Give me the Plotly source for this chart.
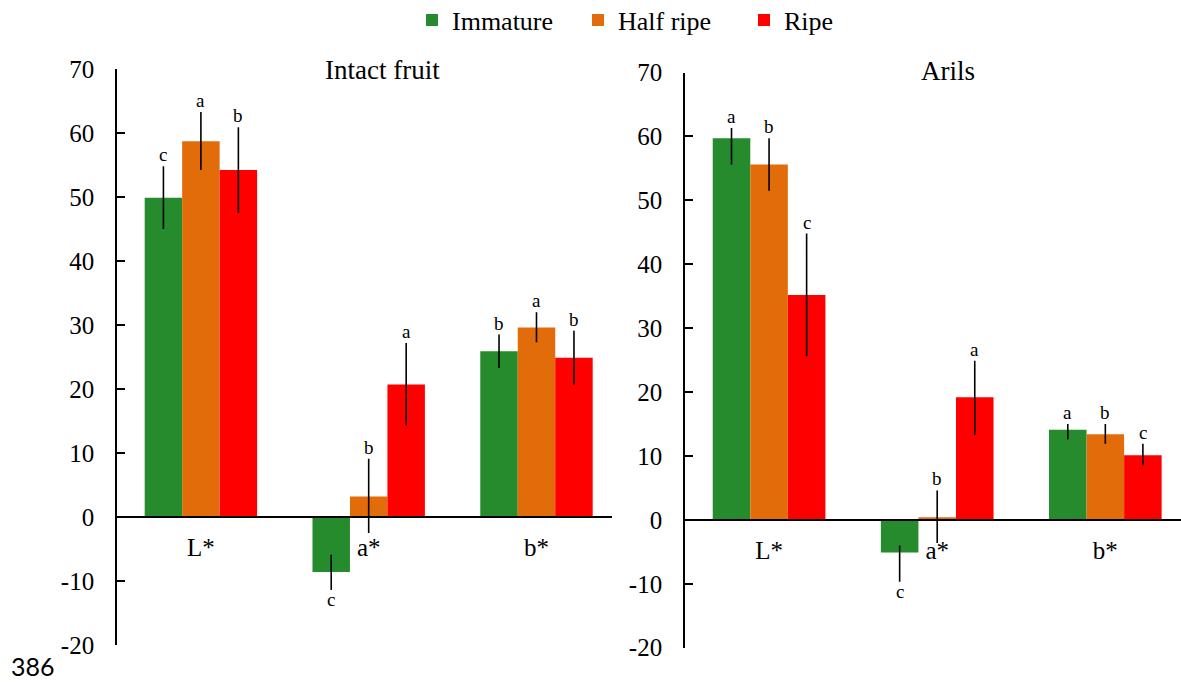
import plotly.graph_objects as go

categories = ["L*", "a*", "b*"]
series_names = ["Immature", "Half ripe", "Ripe"]
series_colors = ["#268B2C", "#E36C0A", "#FF0000"]
y_tick_values = [-20, -10, 0, 10, 20, 30, 40, 50, 60, 70]
y_tick_labels = ["-20", "-10", "0", "10", "20", "30", "40", "50", "60", "70"]

# Intact fruit
intact_immature = [49.9, -8.6, 25.9]
intact_half = [58.7, 3.2, 29.6]
intact_ripe = [54.2, 20.7, 24.9]
intact_immature_err_plus = [4.9, 2.7, 2.6]
intact_immature_err_minus = [4.9, 2.8, 2.6]
intact_half_err_plus = [4.6, 5.9, 2.4]
intact_half_err_minus = [4.5, 5.7, 2.3]
intact_ripe_err_plus = [6.7, 6.5, 4.2]
intact_ripe_err_minus = [6.7, 6.4, 4.2]
intact_immature_letters = ["c", "c", "b"]
intact_half_letters = ["a", "b", "a"]
intact_ripe_letters = ["b", "a", "b"]

# Arils
arils_immature = [59.7, -5.1, 14.1]
arils_half = [55.6, 0.4, 13.4]
arils_ripe = [35.2, 19.2, 10.1]
arils_immature_err_plus = [1.6, 1.1, 0.9]
arils_immature_err_minus = [4.1, 4.6, 1.5]
arils_half_err_plus = [4.1, 4.2, 1.6]
arils_half_err_minus = [4.1, 4.0, 1.5]
arils_ripe_err_plus = [9.6, 5.7, 1.8]
arils_ripe_err_minus = [9.6, 5.9, 1.6]
arils_immature_letters = ["a", "c", "a"]
arils_half_letters = ["b", "b", "b"]
arils_ripe_letters = ["c", "a", "c"]

panel_titles = ["Intact fruit", "Arils"]
line_number = "386"

SERIF = "Liberation Serif"
W, H = 1181, 684
BARGAP = 0.33
bar_w = (1 - BARGAP) / 3

panels = [
    dict(xa="x", ya="y",
         vals=[intact_immature, intact_half, intact_ripe],
         ep=[intact_immature_err_plus, intact_half_err_plus, intact_ripe_err_plus],
         em=[intact_immature_err_minus, intact_half_err_minus, intact_ripe_err_minus],
         letters=[intact_immature_letters, intact_half_letters, intact_ripe_letters]),
    dict(xa="x2", ya="y2",
         vals=[arils_immature, arils_half, arils_ripe],
         ep=[arils_immature_err_plus, arils_half_err_plus, arils_ripe_err_plus],
         em=[arils_immature_err_minus, arils_half_err_minus, arils_ripe_err_minus],
         letters=[arils_immature_letters, arils_half_letters, arils_ripe_letters]),
]

fig = go.Figure()
annotations = []
for pi, p in enumerate(panels):
    for k in range(3):
        fig.add_trace(go.Bar(
            x=categories, y=p["vals"][k], name=series_names[k],
            marker=dict(color=series_colors[k], line=dict(width=0)),
            error_y=dict(type="data", symmetric=False, array=p["ep"][k],
                         arrayminus=p["em"][k], color="black",
                         thickness=1.6, width=0),
            xaxis=p["xa"], yaxis=p["ya"], showlegend=(pi == 0),
            legendgroup=series_names[k],
        ))
        for i, v in enumerate(p["vals"][k]):
            xpos = i + (k - 1) * bar_w
            if v >= 0:
                annotations.append(dict(
                    x=xpos, y=v + p["ep"][k][i], xref=p["xa"], yref=p["ya"],
                    text=p["letters"][k][i], showarrow=False,
                    xanchor="center", yanchor="bottom",
                    yshift=-1, font=dict(family=SERIF, size=19, color="black")))
            else:
                annotations.append(dict(
                    x=xpos, y=v - p["em"][k][i], xref=p["xa"], yref=p["ya"],
                    text=p["letters"][k][i], showarrow=False,
                    xanchor="center", yanchor="top",
                    yshift=3, font=dict(family=SERIF, size=19, color="black")))

# panel titles
annotations.append(dict(x=382.5 / W, y=1 - 70 / H, xref="paper", yref="paper",
                        text=panel_titles[0], showarrow=False,
                        xanchor="center", yanchor="middle",
                        font=dict(family=SERIF, size=27, color="black")))
annotations.append(dict(x=948 / W, y=1 - 71 / H, xref="paper", yref="paper",
                        text=panel_titles[1], showarrow=False,
                        xanchor="center", yanchor="middle",
                        font=dict(family=SERIF, size=27, color="black")))
annotations.append(dict(x=10 / W, y=1 - 666 / H, xref="paper", yref="paper",
                        text=line_number, showarrow=False,
                        xanchor="left", yanchor="middle", borderpad=0,
                        font=dict(family="Lato", size=25, color="black")))

def yaxis_cfg(top_px, bot_px, anchor, standoff):
    return dict(domain=[1 - bot_px / H, 1 - top_px / H], range=[-20, 70],
                tickmode="array", tickvals=y_tick_values, ticktext=y_tick_labels,
                showgrid=False, zeroline=False, automargin=False,
                showline=True, linecolor="black", linewidth=1.6,
                ticks="inside", ticklen=8, tickwidth=1.6, tickcolor="black",
                ticklabelstandoff=standoff, anchor=anchor,
                tickfont=dict(family=SERIF, size=25, color="black"))

def xaxis_cfg(left_px, right_px, zero_px):
    return dict(domain=[left_px / W, right_px / W], range=[-0.5, 2.45],
                type="category", anchor="free", position=1 - zero_px / H,
                showgrid=False, zeroline=False, showline=True, automargin=False,
                linecolor="black", linewidth=1.6, ticks="",
                ticklabelstandoff=8,
                tickfont=dict(family=SERIF, size=25, color="black"))

fig.update_layout(
    width=W, height=H,
    margin=dict(l=0, r=0, t=0, b=0, autoexpand=False),
    paper_bgcolor="white", plot_bgcolor="white",
    font=dict(family=SERIF, color="black"),
    barmode="group", bargap=BARGAP, bargroupgap=0,
    xaxis=xaxis_cfg(117, 612, 517),
    yaxis=yaxis_cfg(69, 645, "x", 16),
    xaxis2=xaxis_cfg(685, 1181, 520),
    yaxis2=yaxis_cfg(72.5, 647.7, "x2", 16),
    legend=dict(orientation="h", x=412 / W, xanchor="left",
                xref="container", yref="container",
                y=1 - 20 / H, yanchor="middle",
                entrywidth=121, entrywidthmode="pixels",
                font=dict(family=SERIF, size=26, color="black"),
                bgcolor="rgba(0,0,0,0)"),
    annotations=annotations,
)

fig.write_html("out.html",
               config={"displayModeBar": False},
               post_script="document.body.style.margin='0';document.body.style.overflow='hidden';")
